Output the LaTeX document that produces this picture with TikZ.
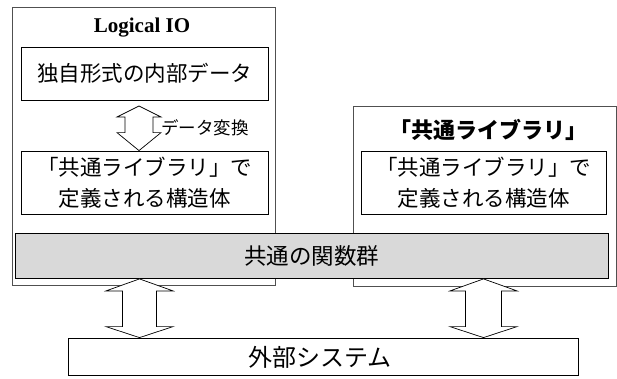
\documentclass[tikz,border=0pt]{standalone}
\usepackage{fontspec}
\setmainfont{Liberation Serif}
\newfontfamily\jp{Noto Sans CJK JP}
\usetikzlibrary{calc}
\definecolor{barfill}{HTML}{D9D9D9}
\definecolor{outerline}{HTML}{505050}
\tikzset{
  outerbox/.style={draw=outerline, line width=0.9pt},
  innerbox/.style={draw=black, line width=0.8pt},
  barbox/.style={draw=black, line width=0.8pt, fill=barfill},
  jtext/.style={font=\jp\fontsize{21.5}{31}\selectfont, align=center, inner sep=0pt},
  dblarrow/.style={draw=black, line width=0.7pt, fill=white},
}
\begin{document}
\begin{tikzpicture}[x=1pt,y=-1pt]
\useasboundingbox (0,0) rectangle (617,378);
% outer boxes
\draw[outerbox] (12,7) rectangle (275,285);
\draw[outerbox] (353,106) rectangle (616,286);
% left content
\node[font=\bfseries\fontsize{21}{24}\selectfont, inner sep=0pt] (ltitle) at (142,28) {Logical IO};
\node[innerbox, minimum width=247pt, minimum height=53pt, inner sep=0pt] (own) at (144.5,73.5) {};
\node[jtext] (owntext) at (own.center) {独自形式の内部データ};
\node[innerbox, minimum width=247pt, minimum height=63pt, inner sep=0pt] (lstruct) at (144.5,182.5) {};
\node[jtext] (lstructtext) at (lstruct.center) {「共通ライブラリ」で\\定義される構造体};
\node[jtext, font=\jp\fontsize{17.5}{20}\selectfont, anchor=west] (conv) at (161,128) {データ変換};
% right content
\node[font=\jp\bfseries\fontsize{22}{24}\selectfont, inner sep=0pt] (rtitle) at (488,130) {「共通ライブラリ」};
\node[innerbox, minimum width=245pt, minimum height=63pt, inner sep=0pt] (rstruct) at (483.5,182.5) {};
\node[jtext] (rstructtext) at (rstruct.center) {「共通ライブラリ」で\\定義される構造体};
% common bar
\node[barbox, minimum width=593pt, minimum height=45pt, inner sep=0pt] (bar) at (311.5,256) {};
\node[jtext, font=\jp\fontsize{22.5}{24}\selectfont] (bartext) at (bar.center) {共通の関数群};
% external system
\node[innerbox, minimum width=510pt, minimum height=37pt, inner sep=0pt] (ext) at (323,356.5) {};
\node[jtext, font=\jp\fontsize{24}{26}\selectfont] (exttext) at (320,357) {外部システム};
% double arrows
\coordinate (a1t) at (139,106);
\coordinate (a1b) at (lstruct.north -| a1t);
\draw[dblarrow] (a1t) -- ++(22,11) -- ++(-8,0) |- ($(a1b)+(14,-18)$) -- ++(8,0) -- (a1b)
  -- ++(-22,-18) -- ++(8,0) |- ($(a1t)+(-14,11)$) -- ++(-8,0) -- cycle;
\coordinate (a2t) at (bar.south -| 139.5,0);
\coordinate (a2b) at (ext.north -| a2t);
\draw[dblarrow] (a2t) -- ++(33.5,12) -- ++(-16.5,0) |- ($(a2b)+(17,-11)$) -- ++(16.5,0) -- (a2b)
  -- ++(-33.5,-11) -- ++(16.5,0) |- ($(a2t)+(-17,12)$) -- ++(-16.5,0) -- cycle;
\coordinate (a3t) at (bar.south -| 483.5,0);
\coordinate (a3b) at (ext.north -| a3t);
\draw[dblarrow] (a3t) -- ++(33.5,12) -- ++(-15.5,0) |- ($(a3b)+(18,-11)$) -- ++(15.5,0) -- (a3b)
  -- ++(-33.5,-11) -- ++(15.5,0) |- ($(a3t)+(-18,12)$) -- ++(-15.5,0) -- cycle;
\end{tikzpicture}
\end{document}
